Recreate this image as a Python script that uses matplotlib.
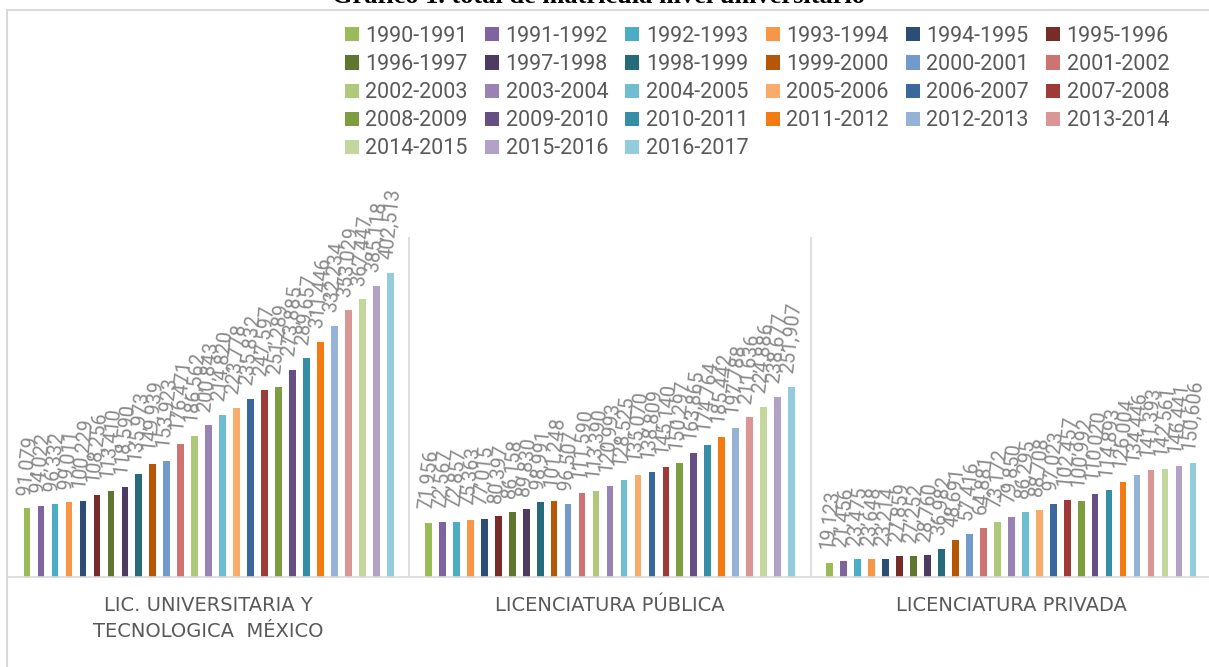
import matplotlib.pyplot as plt
import matplotlib.patches as mpatches
import numpy as np

categories = ["LIC. UNIVERSITARIA Y\nTECNOLOGICA  MÉXICO",
              "LICENCIATURA PÚBLICA",
              "LICENCIATURA PRIVADA"]

periods = ["1990-1991", "1991-1992", "1992-1993", "1993-1994", "1994-1995",
           "1995-1996", "1996-1997", "1997-1998", "1998-1999", "1999-2000",
           "2000-2001", "2001-2002", "2002-2003", "2003-2004", "2004-2005",
           "2005-2006", "2006-2007", "2007-2008", "2008-2009", "2009-2010",
           "2010-2011", "2011-2012", "2012-2013", "2013-2014", "2014-2015",
           "2015-2016", "2016-2017"]

universitaria = [91079, 94022, 96332, 99011, 100229, 108256, 113410, 118590,
                 135973, 149939, 153923, 176471, 186562, 200843, 214820,
                 223778, 235832, 247597, 251289, 273885, 289657, 311446,
                 332234, 353029, 367447, 385118, 402513]
publica = [71956, 72567, 72857, 75363, 77015, 80397, 86158, 89830, 98991,
           101248, 96507, 111590, 113390, 120993, 128525, 135070, 138809,
           145140, 150297, 163865, 174764, 185442, 197788, 211636, 224886,
           238677, 251907]
privada = [19123, 21456, 23475, 23648, 23214, 27859, 27252, 28760, 36982,
           48691, 57416, 64881, 73172, 79850, 86295, 88708, 97023, 102457,
           100992, 110020, 114893, 126004, 134446, 141393, 142561, 146441,
           150606]

colors = ["#9BBB59", "#8064A2", "#4BACC6", "#F79646", "#2C4D75", "#772C2A",
          "#5F7530", "#4D3B62", "#276A7C", "#B65708", "#729ACA", "#CD7371",
          "#AFC97A", "#9983B5", "#6FBDD1", "#F9AB6B", "#3A679C", "#9E3B38",
          "#7E9C40", "#664F82", "#358EA6", "#F47A12", "#95B3D7", "#D99694",
          "#C3D69B", "#B3A2C7", "#93CDDD"]

W, H = 1209, 667
fig = plt.figure(figsize=(W / 100, H / 100), dpi=100)

# chart frame (Excel style, cut by the image edges)
fig.patches.append(mpatches.Rectangle((7 / W, -0.1), 1.2, 1 - 10 / H + 0.1,
                                      transform=fig.transFigure,
                                      fill=False, ec="#d9d9d9", lw=1.5))

# title is mostly cut off by the top edge, as in the original
fig.text(598 / W, 1 - 3 / H, "Gráfico 1. total de matrícula nivel universitario",
         family="Liberation Serif", weight="bold", fontsize=19,
         ha="center", va="baseline", color="black")

ax = fig.add_axes([8 / W, 90 / H, 1204 / W, 340 / H])
data = np.array([universitaria, publica, privada])
x = np.arange(len(categories))
pitch = 0.0348
bw = 0.0167
n = len(periods)

bars = []
for j in range(n):
    off = (j - (n - 1) / 2) * pitch
    b = ax.bar(x + off, data[:, j], width=bw, color=colors[j], label=periods[j])
    bars.append(b)
    for xi, v in zip(x + off, data[:, j]):
        ax.annotate(f"{v:,}", (xi, v), xytext=(0, 9), textcoords="offset points",
                    rotation=84, ha="center", va="bottom",
                    family="Roboto", fontsize=14.3, color="#8a8a8a")

ax.set_xlim(-0.5, 2.5)
ax.set_ylim(0, 450000)
ax.set_yticks([])
ax.set_xticks(x)
ax.set_xticklabels(categories, family="DejaVu Sans", fontsize=14,
                   color="#595959", linespacing=1.45)
ax.tick_params(axis="x", length=0, pad=14)
for s in ["top", "left", "right"]:
    ax.spines[s].set_visible(False)
ax.spines["bottom"].set_color("#d9d9d9")
ax.spines["bottom"].set_linewidth(1.2)
for xb in [0.5, 1.5]:
    ax.axvline(xb, color="#d9d9d9", lw=1.2, zorder=0)

# legend, filled row by row like the original
ncol = 6
order = []
for c in range(ncol):
    order += [r * ncol + c for r in range((n - c + ncol - 1) // ncol)]
handles = [bars[i] for i in order]
labels = [periods[i] for i in order]
fig.legend(handles, labels, ncol=ncol, loc="upper left",
           bbox_to_anchor=(345 / W, 1 - 26 / H), frameon=False,
           prop={"family": "Roboto", "size": 15.5}, labelcolor="#595959",
           handlelength=0.65, handleheight=0.63, handletextpad=0.3,
           columnspacing=0.8, labelspacing=0.33, borderpad=0, borderaxespad=0)

fig.savefig("out.png", dpi=100)
